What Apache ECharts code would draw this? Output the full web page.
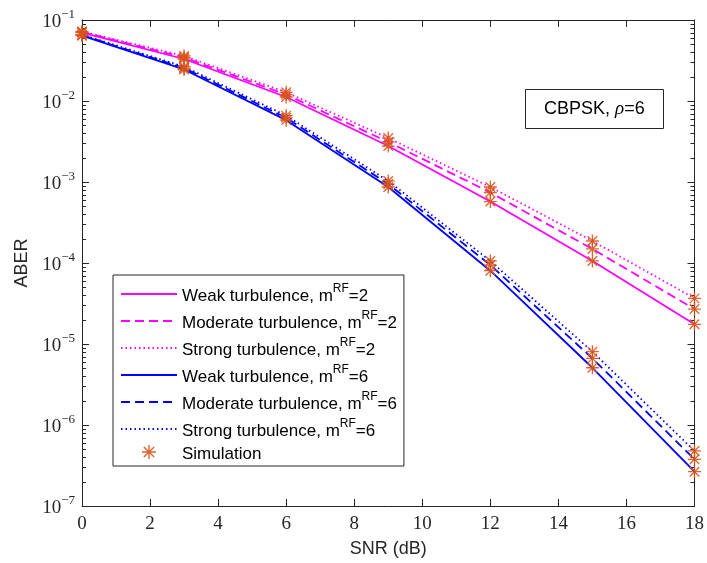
<!DOCTYPE html>
<html><head><meta charset="utf-8">
<script src="https://cdn.jsdelivr.net/npm/echarts@6/dist/echarts.min.js"></script>
<style>html,body{margin:0;padding:0;background:#fff}#c{width:707px;height:563px}</style>
</head><body><div id="c"></div>
<script>
// ---- data ----
const snr = [0, 3, 6, 9, 12, 15, 18];
const weak2   = [0.070, 0.0330, 0.0112, 0.00278, 0.000574, 0.000106, 1.75e-5];
const mod2    = [0.071, 0.0345, 0.0120, 0.00312, 0.000741, 0.000149, 2.70e-5];
const strong2 = [0.072, 0.0360, 0.0128, 0.00349, 0.000867, 0.000187, 3.66e-5];
const weak6   = [0.064, 0.0245, 0.0058, 0.000867, 8.03e-5, 5.09e-6, 2.65e-7];
const mod6    = [0.065, 0.0255, 0.0062, 0.000944, 9.44e-5, 6.65e-6, 3.77e-7];
const strong6 = [0.066, 0.0265, 0.0066, 0.00103, 1.06e-4, 8.04e-6, 4.78e-7];
const names = [
  'Weak turbulence, mRF=2', 'Moderate turbulence, mRF=2', 'Strong turbulence, mRF=2',
  'Weak turbulence, mRF=6', 'Moderate turbulence, mRF=6', 'Strong turbulence, mRF=6'
];
const simName = 'Simulation';
const xTickInterval = 2;

// ---- styling ----
const axisColor = '#262626';
const magenta = '#FF00FF', blue = '#0000FF', orange = '#D95319';
const sans = 'Liberation Sans, Arial, Helvetica, sans-serif';
const serif = 'Liberation Serif, DejaVu Serif, serif';
const asterisk = 'path://M4.5 0L5.5 0L5.5 10L4.5 10Z M0 4.5L10 4.5L10 5.5L0 5.5Z M1 1.7L1.7 1L9 8.3L8.3 9Z M8.3 1L9 1.7L1.7 9L1 8.3Z';

const allSets = [weak2, mod2, strong2, weak6, mod6, strong6];
const colors = [magenta, magenta, magenta, blue, blue, blue];
const types = ['solid', [9, 5], [1.5, 3], 'solid', [9, 5], [1.5, 3]];

const lineSeries = allSets.map((vals, i) => ({
  name: names[i], type: 'line', xAxisIndex: 0, yAxisIndex: 0,
  data: snr.map((x, j) => [x, vals[j]]),
  symbol: 'none', showSymbol: false,
  lineStyle: { color: colors[i], width: 1.8, type: types[i] },
  itemStyle: { color: colors[i] }, z: 3
}));

const simData = [];
allSets.forEach(vals => snr.forEach((x, j) => simData.push([x, vals[j]])));

const minorVals = [];
for (let k = -7; k < -1; k++) for (let m = 2; m <= 9; m++) minorVals.push(m * Math.pow(10, k));

const legendData = names.map(n => ({ name: n, itemStyle: { opacity: 0 } })).concat([{ name: simName }]);

const chart = echarts.init(document.getElementById('c'), null, { renderer: 'canvas' });
chart.setOption({
  animation: false,
  backgroundColor: '#fff',
  grid: { left: 82, right: 10, top: 20, bottom: 57 },
  title: {
    text: '{a|CBPSK, }{b|ρ}{a|=6}',
    left: 525, top: 88,
    padding: [10, 19, 10, 19],
    borderColor: axisColor, borderWidth: 1, backgroundColor: '#fff',
    textStyle: { fontWeight: 'normal', rich: {
      a: { fontSize: 18, fontFamily: sans, fontWeight: 'normal', color: '#000', lineHeight: 22 },
      b: { fontSize: 19, fontFamily: serif, fontStyle: 'italic', fontWeight: 'normal', color: '#000', lineHeight: 22 }
    } }
  },
  legend: {
    data: legendData,
    orient: 'vertical', left: 113, top: 275,
    padding: [8, 7, 3, 7], itemGap: 5,
    itemWidth: 56, itemHeight: 14,
    backgroundColor: '#fff', borderColor: axisColor, borderWidth: 1, borderRadius: 0,
    formatter: function (name) {
      const m = name.match(/^(.*m)RF(=\d)$/);
      if (m) return '{n|' + m[1] + '}{s|RF}{n|' + m[2] + '}';
      return '{n|' + name + '}';
    },
    textStyle: { rich: {
      n: { fontSize: 17, fontFamily: sans, color: '#000', lineHeight: 22, verticalAlign: 'bottom' },
      s: { fontSize: 12, fontFamily: sans, color: '#000', lineHeight: 12, verticalAlign: 'top' }
    } }
  },
  xAxis: [
    {
      type: 'value', min: 0, max: 18, interval: xTickInterval, position: 'bottom',
      axisLine: { show: true, onZero: false, lineStyle: { color: axisColor, width: 1 } },
      axisTick: { inside: true, length: 7, lineStyle: { color: axisColor } },
      axisLabel: { fontFamily: serif, fontSize: 19, color: axisColor, margin: 9 },
      splitLine: { show: false },
      name: 'SNR (dB)', nameLocation: 'middle', nameGap: 34,
      nameTextStyle: { fontFamily: sans, fontSize: 18, color: axisColor }
    },
    {
      type: 'value', min: 0, max: 18, interval: xTickInterval, position: 'top',
      axisLine: { show: true, onZero: false, lineStyle: { color: axisColor, width: 1 } },
      axisTick: { inside: true, length: 7, lineStyle: { color: axisColor } },
      axisLabel: { show: false }, splitLine: { show: false }
    }
  ],
  yAxis: [
    {
      type: 'log', logBase: 10, min: 1e-7, max: 1e-1, splitNumber: 6, position: 'left',
      axisLine: { show: true, onZero: false, lineStyle: { color: axisColor, width: 1 } },
      axisTick: { inside: true, length: 7, lineStyle: { color: axisColor } },
      axisLabel: {
        margin: 7,
        formatter: function (v) {
          const e = Math.round(Math.log10(v));
          return '{b|10}{e|' + (e < 0 ? '\u2212' : '') + Math.abs(e) + '}';
        },
        rich: {
          b: { fontFamily: serif, fontSize: 19, color: axisColor, lineHeight: 24, verticalAlign: 'bottom' },
          e: { fontFamily: serif, fontSize: 13, color: axisColor, lineHeight: 13, verticalAlign: 'top' }
        }
      },
      splitLine: { show: false },
      name: 'ABER', nameLocation: 'middle', nameGap: 50, nameRotate: 90,
      nameTextStyle: { fontFamily: sans, fontSize: 18, color: axisColor }
    },
    {
      type: 'log', logBase: 10, min: 1e-7, max: 1e-1, splitNumber: 6, position: 'right',
      axisLine: { show: true, onZero: false, lineStyle: { color: axisColor, width: 1 } },
      axisTick: { inside: true, length: 7, lineStyle: { color: axisColor } },
      axisLabel: { show: false }, splitLine: { show: false }
    }
  ],
  series: lineSeries.concat([
    {
      name: simName, type: 'scatter', xAxisIndex: 0, yAxisIndex: 0,
      data: simData, symbol: asterisk, symbolSize: 13,
      itemStyle: { color: orange, opacity: 0.9 }, z: 4
    },
    {
      type: 'custom', xAxisIndex: 0, yAxisIndex: 0, silent: true, z: 1,
      data: minorVals.map(v => [0, v]),
      renderItem: function (params, api) {
        const v = api.value(1);
        const p1 = api.coord([0, v]);
        const p2 = api.coord([18, v]);
        const y = Math.round(p1[1]) + 0.5;
        return { type: 'group', children: [
          { type: 'line', shape: { x1: p1[0], y1: y, x2: p1[0] + 4, y2: y }, style: { stroke: axisColor, lineWidth: 1 } },
          { type: 'line', shape: { x1: p2[0] - 4, y1: y, x2: p2[0], y2: y }, style: { stroke: axisColor, lineWidth: 1 } }
        ] };
      }
    }
  ])
});
</script>
</body></html>
